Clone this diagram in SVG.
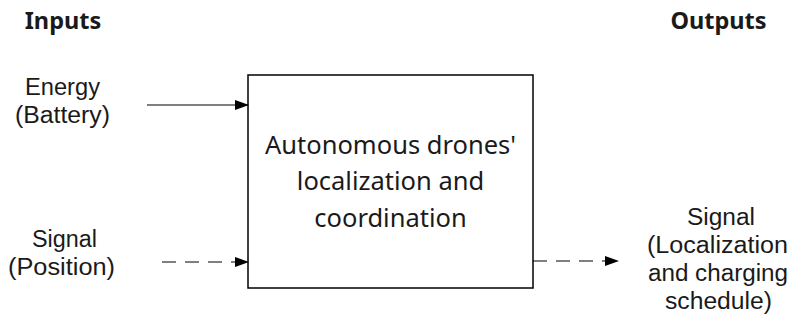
<svg xmlns="http://www.w3.org/2000/svg" width="793" height="328" viewBox="0 0 793 328">
<style>
text{font-family:"Noto Sans","Open Sans",sans-serif;fill:#1a1a1a;text-anchor:middle}
.h{font-weight:bold;font-size:23.5px}
.l{font-family:"Liberation Sans",Arial,sans-serif;font-size:23px}
.b{font-size:25.5px}
.c{stroke:#000;stroke-width:1.2;fill:none}
.d{stroke-dasharray:14,9}
</style>
<defs>
<marker id="ah" markerWidth="14" markerHeight="10" refX="13" refY="5" orient="auto" markerUnits="userSpaceOnUse">
<path d="M0,0 L14,5 L0,10 Z" fill="#000"/>
</marker>
</defs>
<g id="headers">
<text class="h" x="63" y="29">Inputs</text>
<text class="h" x="718.5" y="29">Outputs</text>
</g>
<g id="energy">
<text class="l" x="62.5" y="95" textLength="75" lengthAdjust="spacingAndGlyphs">Energy</text>
<text class="l" x="62.5" y="123" textLength="95" lengthAdjust="spacingAndGlyphs">(Battery)</text>
</g>
<g id="signal-in">
<text class="l" x="64.5" y="247" textLength="65" lengthAdjust="spacingAndGlyphs">Signal</text>
<text class="l" x="61.5" y="275" textLength="107" lengthAdjust="spacingAndGlyphs">(Position)</text>
</g>
<g id="process">
<rect x="248" y="75" width="285" height="213" fill="#fff" stroke="#000" stroke-width="1.5"/>
<text class="b" x="390.5" y="154">Autonomous drones'</text>
<text class="b" x="390.5" y="190">localization and</text>
<text class="b" x="390.5" y="227">coordination</text>
</g>
<g id="signal-out">
<text class="l" x="721" y="225" textLength="68" lengthAdjust="spacingAndGlyphs">Signal</text>
<text class="l" x="717.5" y="253" textLength="141" lengthAdjust="spacingAndGlyphs">(Localization</text>
<text class="l" x="718" y="281" textLength="140" lengthAdjust="spacingAndGlyphs">and charging</text>
<text class="l" x="718.5" y="309" textLength="107" lengthAdjust="spacingAndGlyphs">schedule)</text>
</g>
<g id="connectors">
<line class="c" x1="147" y1="105" x2="248" y2="105" marker-end="url(#ah)"/>
<line class="c d" x1="162" y1="262" x2="248" y2="262" marker-end="url(#ah)"/>
<line class="c d" x1="533" y1="261" x2="618" y2="261" marker-end="url(#ah)"/>
</g>
</svg>
